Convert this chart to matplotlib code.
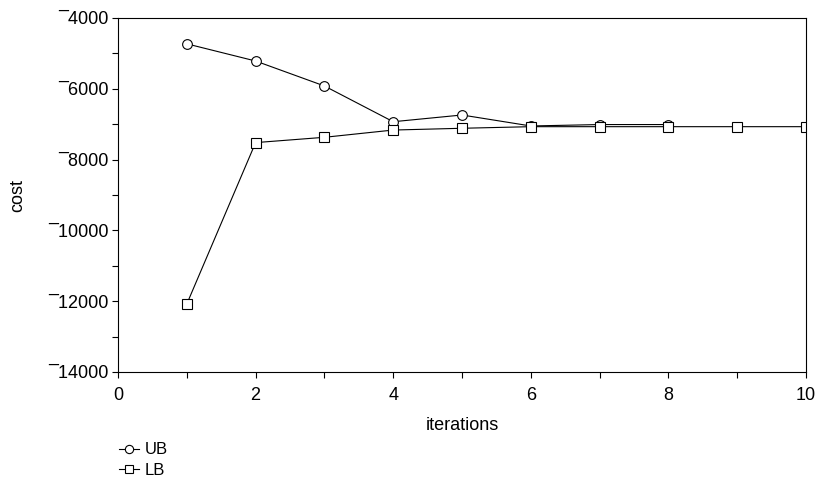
import numpy as np
import matplotlib
matplotlib.use("Agg")
import matplotlib.pyplot as plt
from matplotlib.ticker import MultipleLocator, FuncFormatter

# values
ub_iter = [1, 2, 3, 4, 5, 6, 7, 8]
ub_cost = [-4730, -5215, -5920, -6930, -6740, -7050, -7010, -7010]
lb_iter = [1, 2, 3, 4, 5, 6, 7, 8, 9, 10]
lb_cost = [-12080, -7520, -7370, -7165, -7115, -7070, -7070, -7070, -7070, -7070]

plt.rcParams['font.family'] = ['Liberation Sans', 'DejaVu Sans']

fig = plt.figure(figsize=(8.16, 4.83), dpi=100)
ax = fig.add_axes([118 / 816, 1 - 372 / 483, 688 / 816, 354 / 483])

ax.plot(ub_iter, ub_cost, color='black', lw=0.8, marker='o', ms=7,
        mfc='white', mec='black', mew=0.8, label='UB')
ax.plot(lb_iter, lb_cost, color='black', lw=0.8, marker='s', ms=7.5,
        mfc='white', mec='black', mew=0.8, label='LB')

ax.set_xlim(0, 10)
ax.set_ylim(-14000, -4000)
ax.xaxis.set_major_locator(MultipleLocator(2))
ax.xaxis.set_minor_locator(MultipleLocator(1))
ax.yaxis.set_major_locator(MultipleLocator(2000))
ax.yaxis.set_minor_locator(MultipleLocator(1000))

# high minus like the original software
ax.yaxis.set_major_formatter(FuncFormatter(
    lambda v, p: ('\u00af' + str(int(-v))) if v < 0 else str(int(v))))

ax.tick_params(which='both', direction='out', length=4, width=0.8,
               labelsize=13, colors='black')
ax.tick_params(axis='x', pad=7)
ax.tick_params(axis='y', pad=3)
for s in ax.spines.values():
    s.set_linewidth(0.8)

ax.set_xlabel('iterations', fontsize=13, va='center')
ax.set_ylabel('cost', fontsize=13, va='center')
ax.xaxis.set_label_coords(0.5, (372 - 425) / 354)
ax.yaxis.set_label_coords((18 - 118) / 688, 0.5)

ax.legend(loc='upper left', bbox_to_anchor=(111 / 816, 1 - 434 / 483),
          bbox_transform=fig.transFigure, frameon=False, fontsize=12,
          handlelength=1.2, handletextpad=0.3, labelspacing=0.35,
          borderpad=0, markerscale=0.85)

fig.savefig('out.png', dpi=100)
